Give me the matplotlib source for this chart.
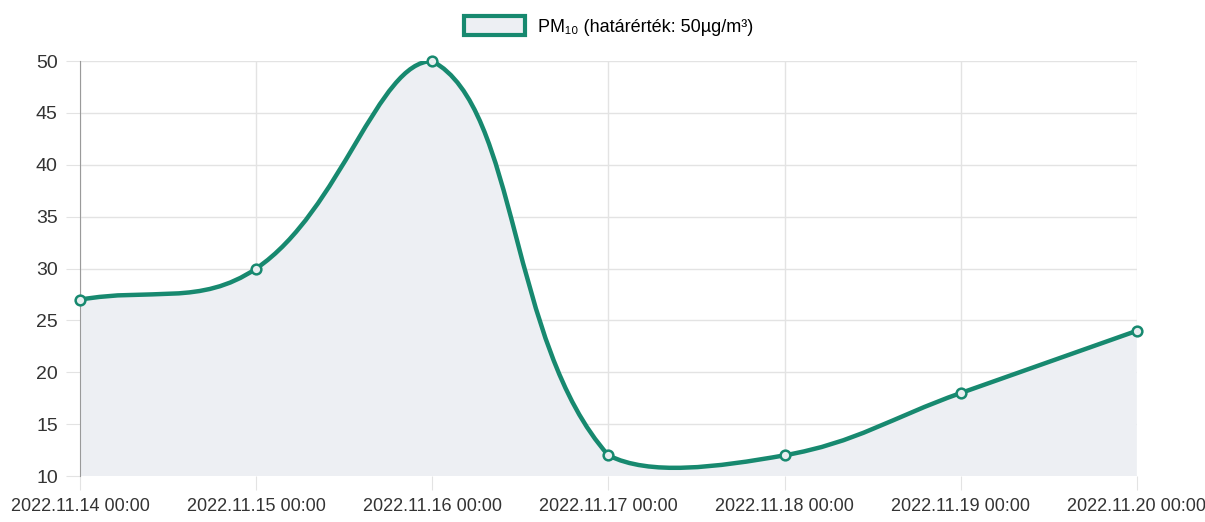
import numpy as np
import matplotlib.pyplot as plt
from matplotlib.path import Path
from matplotlib.patches import PathPatch, Patch

# data
dates = ['2022.11.14 00:00', '2022.11.15 00:00', '2022.11.16 00:00',
         '2022.11.17 00:00', '2022.11.18 00:00', '2022.11.19 00:00',
         '2022.11.20 00:00']
pm10 = [27, 30, 50, 12, 12, 18, 24]
yticks = [10, 15, 20, 25, 30, 35, 40, 45, 50]

line_c = '#17896f'
fill_c = '#edeff3'
grid_c = '#e3e3e3'
font = ['Liberation Sans', 'DejaVu Sans']

fig = plt.figure(figsize=(12.05, 5.22), dpi=100)
ax = fig.add_axes([0.0664, 0.088, 0.877, 0.795])
x = np.arange(len(dates))
ax.set_xlim(0, len(dates) - 1)
ax.set_ylim(10, 50)

# bezier control points like chart.js (tension 0.4), in pixel space
fig.canvas.draw()
pts = ax.transData.transform(np.column_stack([x, pm10]))
bb = ax.bbox
t = 0.4
cps = []
for i in range(len(pts)):
    prev = pts[max(i - 1, 0)]
    cur = pts[i]
    nxt = pts[min(i + 1, len(pts) - 1)]
    d01 = np.hypot(*(cur - prev))
    d12 = np.hypot(*(nxt - cur))
    s01 = d01 / (d01 + d12) if d01 + d12 else 0
    s12 = d12 / (d01 + d12) if d01 + d12 else 0
    cp_prev = cur - t * s01 * (nxt - prev)
    cp_next = cur + t * s12 * (nxt - prev)
    for cp in (cp_prev, cp_next):
        cp[0] = min(max(cp[0], bb.x0), bb.x1)
        cp[1] = min(max(cp[1], bb.y0), bb.y1)
    cps.append((cp_prev, cp_next))

verts = [pts[0]]
codes = [Path.MOVETO]
for i in range(len(pts) - 1):
    verts += [cps[i][1], cps[i + 1][0], pts[i + 1]]
    codes += [Path.CURVE4] * 3
inv = ax.transData.inverted()
dverts = inv.transform(np.array(verts))

fill_verts = np.vstack([dverts, [[x[-1], 10], [x[0], 10], dverts[0]]])
fill_codes = codes + [Path.LINETO, Path.LINETO, Path.CLOSEPOLY]
ax.add_patch(PathPatch(Path(fill_verts, fill_codes), facecolor=fill_c,
                       edgecolor='none', zorder=1))
ax.add_patch(PathPatch(Path(dverts, codes), facecolor='none',
                       edgecolor=line_c, lw=3.2, zorder=3, capstyle='round'))
ax.plot(x, pm10, 'o', ms=7, mfc='#e8eef0', mec=line_c, mew=1.8,
        zorder=4, clip_on=False)

ax.set_xticks(x)
ax.set_xticklabels(dates, family=font, fontsize=13, color='#333333')
ax.set_yticks(yticks)
ax.set_yticklabels([str(v) for v in yticks], family=font, fontsize=14,
                   color='#333333')
ax.grid(True, color=grid_c, lw=1, zorder=0)
ax.set_axisbelow(True)
for s in ['top', 'right', 'bottom']:
    ax.spines[s].set_visible(False)
ax.spines['left'].set_color('#9a9a9a')
ax.tick_params(axis='x', length=10, color=grid_c, pad=6)
ax.tick_params(axis='y', length=10, color=grid_c, pad=6)

handle = Patch(facecolor=fill_c, edgecolor=line_c, lw=3)
fig.legend([handle], ['PM₁₀ (határérték: 50µg/m³)'], loc='upper center',
           bbox_to_anchor=(0.505, 1.0), frameon=False, handlelength=3.4,
           handleheight=1.2, handletextpad=0.7,
           prop={'family': font, 'size': 13})

fig.savefig('out.png', dpi=100, facecolor='white')
